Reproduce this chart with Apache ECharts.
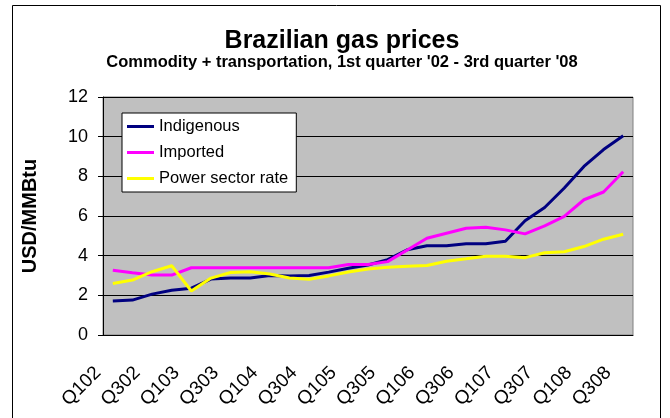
<!DOCTYPE html>
<html>
<head>
<meta charset="UTF-8">
<title>Brazilian gas prices</title>
<script src="https://cdn.jsdelivr.net/npm/echarts@6/dist/echarts.min.js"></script>
<style>
  html, body { margin: 0; padding: 0; background: #fff; }
  #chart { width: 670px; height: 418px; }
</style>
</head>
<body>
<div id="chart"></div>
<script>
// quarters Q102 .. Q308
var quarters = ['Q102','Q202','Q302','Q402','Q103','Q203','Q303','Q403','Q104','Q204','Q304','Q404',
  'Q105','Q205','Q305','Q405','Q106','Q206','Q306','Q406','Q107','Q207','Q307','Q407','Q108','Q208','Q308'];

var indigenous = [1.71, 1.76, 2.06, 2.26, 2.36, 2.82, 2.87, 2.87, 3.0, 2.97, 3.0, 3.17, 3.37, 3.53,
  3.8, 4.3, 4.5, 4.5, 4.6, 4.6, 4.73, 5.76, 6.43, 7.41, 8.5, 9.35, 10.05];
var imported = [3.27, 3.14, 3.02, 3.02, 3.39, 3.39, 3.39, 3.39, 3.39, 3.39, 3.39, 3.39, 3.55, 3.56,
  3.7, 4.29, 4.88, 5.13, 5.38, 5.43, 5.3, 5.1, 5.5, 5.98, 6.82, 7.21, 8.23];
var powerSector = [2.6, 2.77, 3.19, 3.49, 2.22, 2.87, 3.15, 3.19, 3.08, 2.87, 2.81, 2.98, 3.18, 3.33,
  3.41, 3.47, 3.5, 3.72, 3.84, 3.97, 3.97, 3.9, 4.15, 4.2, 4.46, 4.83, 5.08];

var font = '"Liberation Sans", Arial, sans-serif';
var chart = echarts.init(document.getElementById('chart'));

function line(name, data, color) {
  return {
    name: name,
    type: 'line',
    data: data,
    symbol: 'none',
    lineStyle: { color: color, width: 3 },
    itemStyle: { color: color }
  };
}

var option = {
  animation: false,
  backgroundColor: '#fff',
  textStyle: { fontFamily: font },
  title: [
    {
      text: 'Brazilian gas prices',
      left: 337, top: 24, textAlign: 'center',
      textStyle: { fontFamily: font, fontSize: 25, fontWeight: 'bold', color: '#000' }
    },
    {
      text: "Commodity + transportation, 1st quarter '02 - 3rd quarter '08",
      left: 337, top: 49, textAlign: 'center',
      textStyle: { fontFamily: font, fontSize: 16.5, fontWeight: 'bold', color: '#000' }
    }
  ],
  graphic: [{
    type: 'rect',
    shape: { x: 12.5, y: 5.5, width: 648, height: 430 },
    style: { fill: 'none', stroke: '#000', lineWidth: 1 },
    silent: true
  }],
  legend: {
    orient: 'vertical',
    left: 122, top: 113,
    padding: [5, 8, 5, 5],
    backgroundColor: '#fff',
    borderColor: '#000',
    borderWidth: 1,
    itemWidth: 27,
    itemHeight: 3,
    itemGap: 9,
    icon: 'rect',
    textStyle: { fontFamily: font, fontSize: 16.5, color: '#000', lineHeight: 16 },
    data: ['Indigenous', 'Imported', 'Power sector rate']
  },
  grid: {
    left: 103, right: 37, top: 97, bottom: 83,
    show: true,
    backgroundColor: '#c0c0c0',
    borderColor: '#808080',
    borderWidth: 1
  },
  xAxis: {
    type: 'category',
    data: quarters,
    boundaryGap: true,
    axisLine: { lineStyle: { color: '#000', width: 1 } },
    axisTick: { interval: 0, length: 7, lineStyle: { color: '#000' } },
    axisLabel: {
      interval: 1,
      rotate: 45,
      margin: 20,
      formatter: '{q|{value}}',
      rich: {
        // right padding pushes the rotated label left/down like the excel original
        q: { fontFamily: font, fontSize: 19, color: '#000', padding: [0, 21, 0, 0] }
      }
    },
    splitLine: { show: false }
  },
  yAxis: {
    type: 'value',
    min: 0, max: 12, interval: 2,
    name: 'USD/MMBtu',
    nameLocation: 'middle',
    nameGap: 63,
    nameTextStyle: { fontFamily: font, fontSize: 20, fontWeight: 'bold', color: '#000' },
    axisLine: { show: true, lineStyle: { color: '#000', width: 1 } },
    axisTick: { show: true, length: 5, lineStyle: { color: '#000' } },
    axisLabel: { margin: 15, fontFamily: font, fontSize: 18, color: '#000' },
    splitLine: { show: true, lineStyle: { color: '#000', width: 1 } }
  },
  series: [
    line('Indigenous', indigenous, '#000080'),
    line('Imported', imported, '#ff00ff'),
    line('Power sector rate', powerSector, '#ffff00')
  ]
};

chart.setOption(option);
</script>
</body>
</html>
